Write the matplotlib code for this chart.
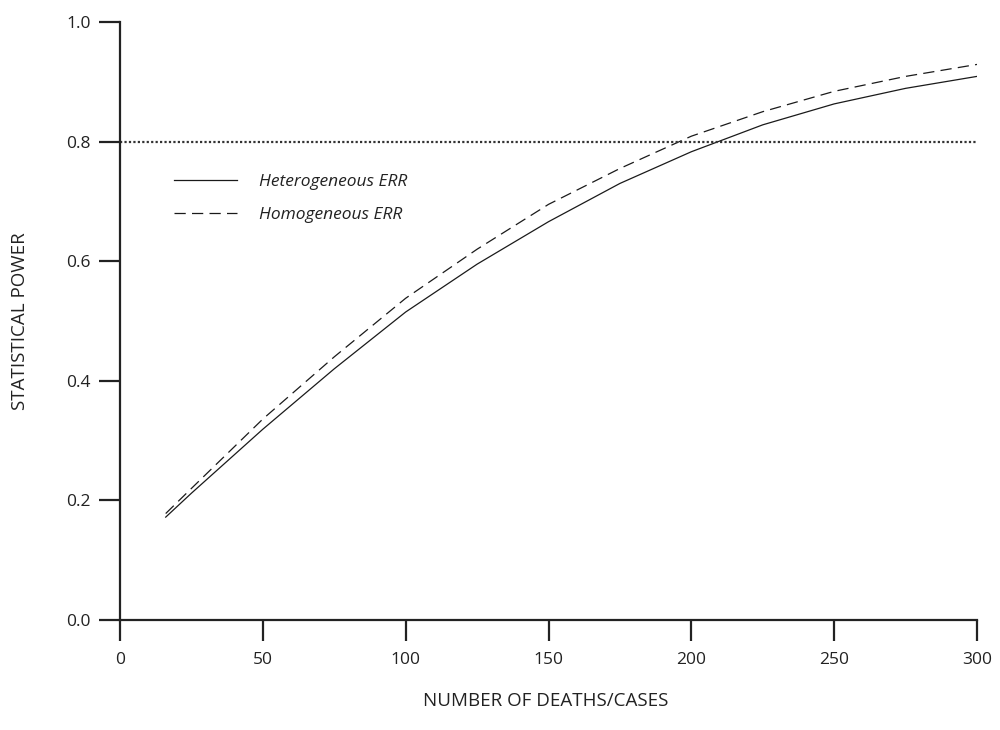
import matplotlib
matplotlib.use('Agg')
from matplotlib import pyplot as plt

plt.rcParams['font.family'] = ['Open Sans', 'DejaVu Sans']

# values
deaths = [16, 25, 50, 75, 100, 125, 150, 175, 200, 225, 250, 275, 300]
power_het = [0.172, 0.212, 0.319, 0.42, 0.515, 0.595, 0.666, 0.73, 0.783, 0.828, 0.863, 0.889, 0.909]
power_hom = [0.178, 0.22, 0.336, 0.44, 0.538, 0.62, 0.695, 0.755, 0.809, 0.85, 0.884, 0.909, 0.929]
target_power = 0.8
x_ticks = [0, 50, 100, 150, 200, 250, 300]
y_ticks = [0.0, 0.2, 0.4, 0.6, 0.8, 1.0]

fig = plt.figure(figsize=(10, 7.3), dpi=100)
ax = fig.add_axes([0.12, 0.1507, 0.857, 0.8192])

ax.plot(deaths, power_het, color='#1a1a1a', lw=0.9, label='Heterogeneous ERR')
ax.plot(deaths, power_hom, color='#1a1a1a', lw=0.9, dashes=(9, 5), label='Homogeneous ERR')
ax.axhline(target_power, color='#333333', lw=1.6, linestyle=(0, (1, 1)))

ax.set_xlim(0, 300)
ax.set_ylim(0, 1)
ax.set_xticks(x_ticks)
ax.set_yticks(y_ticks)
ax.set_yticklabels(['%.1f' % v for v in y_ticks])

for s in ['top', 'right']:
    ax.spines[s].set_visible(False)
for s in ['left', 'bottom']:
    ax.spines[s].set_linewidth(1.6)
    ax.spines[s].set_color('#222222')
ax.tick_params(direction='out', length=15, width=1.6, color='#222222',
               labelsize=12.5, labelcolor='#222222')
ax.tick_params(axis='x', pad=8)
ax.tick_params(axis='y', pad=6)

ax.set_xlabel('NUMBER OF DEATHS/CASES', fontsize=13.5, color='#222222')
ax.set_ylabel('STATISTICAL POWER', fontsize=13.5, color='#222222')
ax.xaxis.set_label_coords(0.497, -0.12)
ax.yaxis.set_label_coords(-0.106, 0.5)

leg = ax.legend(loc='upper left', bbox_to_anchor=(0.045, 0.772), frameon=False,
                handlelength=3.6, handletextpad=1.3, labelspacing=0.95,
                prop={'style': 'italic', 'size': 12.5})
for t in leg.get_texts():
    t.set_color('#222222')

fig.savefig('out.png', dpi=100)
